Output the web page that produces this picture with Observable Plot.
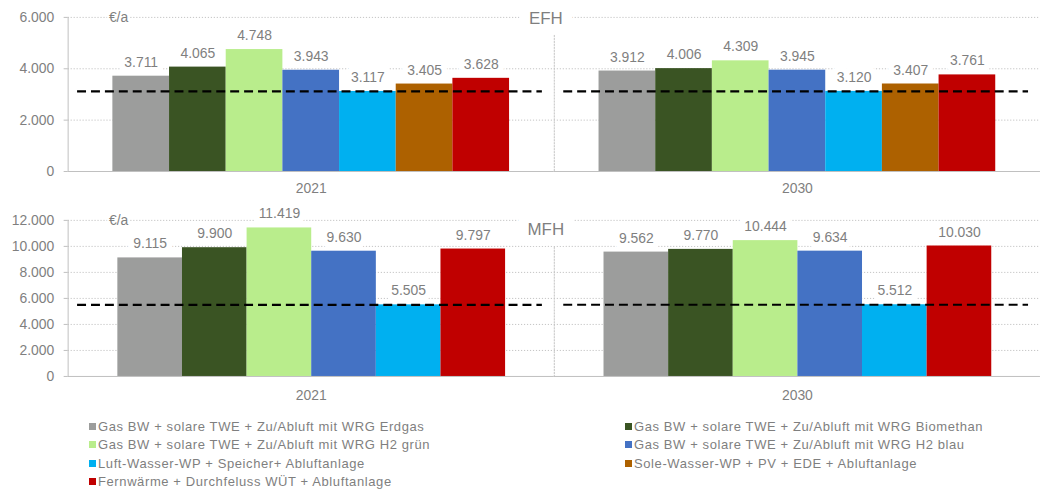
<!DOCTYPE html>
<html>
<head>
<meta charset="utf-8">
<script src="https://cdn.jsdelivr.net/npm/d3@7"></script>
<script src="https://cdn.jsdelivr.net/npm/@observablehq/plot@0.6"></script>
<style>
  html, body { margin: 0; padding: 0; background: #fff; overflow: hidden; width: 1040px; height: 495px; }
  body { font-family: "Liberation Sans", Arial, sans-serif; }
  #chart svg { display: block; }
  #legend { margin-top: 15px; padding-left: 89px; display: grid; grid-template-columns: 536px auto;
            font-size: 13px; letter-spacing: 0.6px; color: #7f7f7f; line-height: 18.5px; }
  #legend .sw { display: inline-block; width: 7px; height: 7px; margin-right: 2px; vertical-align: 1px; }
</style>
</head>
<body>
<div id="chart"></div>
<div id="legend"></div>
<script>
// ---- data ----
const years = ["2021", "2030"];
const seriesEFH = [
  "Gas BW + solare TWE + Zu/Abluft mit WRG Erdgas",
  "Gas BW + solare TWE + Zu/Abluft mit WRG Biomethan",
  "Gas BW + solare TWE + Zu/Abluft mit WRG H2 grün",
  "Gas BW + solare TWE + Zu/Abluft mit WRG H2 blau",
  "Luft-Wasser-WP + Speicher+ Abluftanlage",
  "Sole-Wasser-WP + PV + EDE + Abluftanlage",
  "Fernwärme + Durchfeluss WÜT + Abluftanlage"
];
const seriesMFH = [
  "Gas BW + solare TWE + Zu/Abluft mit WRG Erdgas",
  "Gas BW + solare TWE + Zu/Abluft mit WRG Biomethan",
  "Gas BW + solare TWE + Zu/Abluft mit WRG H2 grün",
  "Gas BW + solare TWE + Zu/Abluft mit WRG H2 blau",
  "Luft-Wasser-WP + Speicher+ Abluftanlage",
  "Fernwärme + Durchfeluss WÜT + Abluftanlage"
];
const colors = ["#9c9d9c", "#3a5423", "#b9ed8c", "#4472c4", "#00b0f0", "#ad6100", "#c00000"];
const efh2021 = [3711, 4065, 4748, 3943, 3117, 3405, 3628];
const efh2030 = [3912, 4006, 4309, 3945, 3120, 3407, 3761];
const mfh2021 = [9115, 9900, 11419, 9630, 5505, 9797];
const mfh2030 = [9562, 9770, 10444, 9634, 5512, 10030];
const referenceSeries = "Luft-Wasser-WP + Speicher+ Abluftanlage";
const efhTicks = [0, 2000, 4000, 6000];
const mfhTicks = [0, 2000, 4000, 6000, 8000, 10000, 12000];
const unitLabel = "€/a";

// ---- helpers ----
const de = d3.formatLocale({decimal: ",", thousands: ".", grouping: [3], currency: ["", " €"]});
const fmt = de.format(",d");
const colorScale = {domain: seriesEFH, range: colors};

function rows(series, v2021, v2030) {
  const out = [];
  series.forEach((s, i) => out.push({year: "2021", series: s, value: v2021[i]}));
  series.forEach((s, i) => out.push({year: "2030", series: s, value: v2030[i]}));
  return out;
}

function panel({series, data, ticks, title, height, marginTop, marginBottom, labelDy, titleDy}) {
  const maxY = ticks[ticks.length - 1];
  const textColor = "#7f7f7f";
  return Plot.plot({
    width: 1046,
    height,
    marginLeft: 67,
    marginRight: 0,
    marginTop,
    marginBottom,
    style: {fontFamily: "'Liberation Sans', Arial, sans-serif", fontSize: "14px", color: textColor, background: "#fff"},
    fx: {domain: years, padding: 0, axis: null, label: null},
    x: {domain: series, paddingInner: 0, paddingOuter: 0.73, axis: null, label: null},
    y: {domain: [0, maxY], axis: null, label: null},
    color: colorScale,
    marks: [
      Plot.gridY(ticks.filter(t => t > 0), {stroke: "#c4c4c4", strokeOpacity: 1, strokeDasharray: "1.2,1.8"}),
      Plot.frame({anchor: "left", fx: () => "2030", stroke: "#c4c4c4", strokeDasharray: "1.2,1.8"}),
      Plot.frame({anchor: "left", fx: () => "2021", stroke: "#bfbfbf"}),
      Plot.ruleY([0], {stroke: "#bfbfbf"}),
      Plot.axisY({ticks, tickFormat: fmt, tickSize: 4, tickPadding: 10, stroke: "#bfbfbf", fill: textColor, fontSize: 14, label: null}),
      Plot.barY(data, {fx: "year", x: "series", y: "value", fill: "series"}),
      Plot.ruleY(data.filter(d => d.series === referenceSeries),
        {fx: "year", y: "value", stroke: "#000", strokeWidth: 2.2, strokeDasharray: "9,5", insetLeft: 9.5, insetRight: 12}),
      Plot.text(data, {fx: "year", x: "series", y: "value", text: d => fmt(d.value), dy: -14,
        lineAnchor: "middle", fill: textColor, fontSize: 14, stroke: "white", strokeWidth: 12}),
      Plot.text(years, {fx: d => d, text: d => d, frameAnchor: "bottom", dy: labelDy, lineAnchor: "middle", fill: textColor, fontSize: 14}),
      Plot.text([unitLabel], {fx: () => "2021", text: d => d, frameAnchor: "top-left", dx: 41, lineAnchor: "middle",
        textAnchor: "start", fill: textColor, fontSize: 14, stroke: "white", strokeWidth: 4}),
      Plot.text([title], {fx: () => "2030", text: d => d, frameAnchor: "top-left", dx: -8.5, dy: titleDy, lineAnchor: "middle",
        textAnchor: "middle", fill: textColor, fontSize: 17, stroke: "white", strokeWidth: 22})
    ]
  });
}

const chart = document.getElementById("chart");
chart.append(panel({series: seriesEFH, data: rows(seriesEFH, efh2021, efh2030), ticks: efhTicks, title: "EFH",
  height: 200, marginTop: 17, marginBottom: 28, labelDy: 17, titleDy: 1}));
chart.append(panel({series: seriesMFH, data: rows(seriesMFH, mfh2021, mfh2030), ticks: mfhTicks, title: "MFH",
  height: 205, marginTop: 21, marginBottom: 27, labelDy: 19, titleDy: 9}));

// ---- legend ----
const legend = document.getElementById("legend");
seriesEFH.forEach((s, i) => {
  const item = document.createElement("div");
  const sw = document.createElement("span");
  sw.className = "sw";
  sw.style.background = colors[i];
  item.append(sw, document.createTextNode(s));
  legend.append(item);
});
</script>
</body>
</html>
